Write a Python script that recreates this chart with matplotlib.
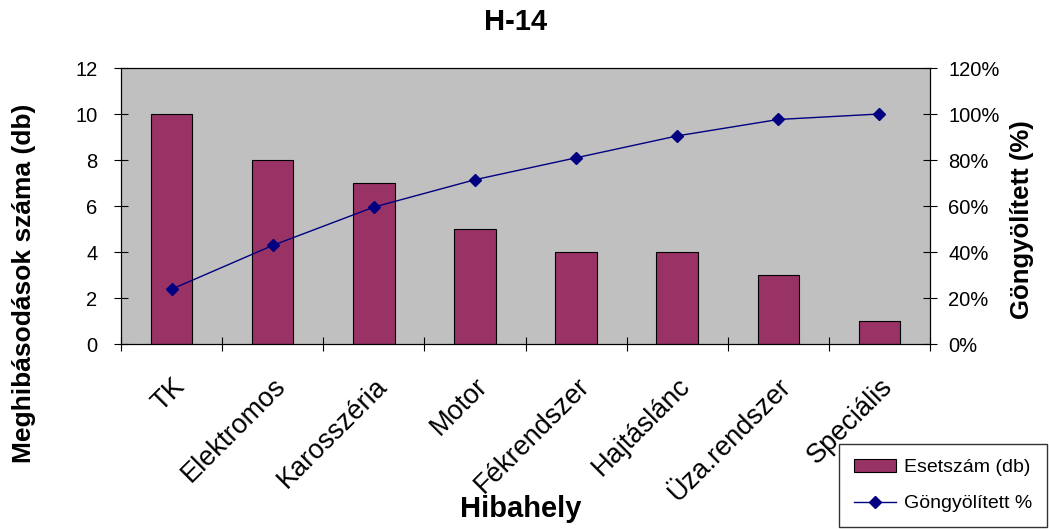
import matplotlib.pyplot as plt
import numpy as np

plt.rcParams['font.family'] = ['Liberation Sans', 'DejaVu Sans']

kategoriak = ['TK', 'Elektromos', 'Karosszéria', 'Motor', 'Fékrendszer',
              'Hajtáslánc', 'Üza.rendszer', 'Speciális']
esetszam = [10, 8, 7, 5, 4, 4, 3, 1]

# cumulative share in percent
gongyolitett = np.cumsum(esetszam) / np.sum(esetszam) * 100

fig = plt.figure(figsize=(10.49, 5.29), dpi=100)
ax = fig.add_axes([121/1049, 1 - 344/529, 809/1049, 276/529])
ax.set_facecolor('#C0C0C0')

x = np.arange(len(kategoriak))
bars = ax.bar(x, esetszam, width=0.41, color='#993366', edgecolor='black',
              linewidth=0.8, label='Esetszám (db)', zorder=2)
ax.set_xlim(-0.5, len(kategoriak) - 0.5)
ax.set_ylim(0, 12)
ax.set_yticks(range(0, 13, 2))

# category ticks sit on the boundaries, labels in the middle
ax.set_xticks(np.arange(-0.5, len(kategoriak)), minor=False)
ax.set_xticklabels([])
ax.set_xticks(x, minor=True)
ax.set_xticklabels(kategoriak, minor=True, rotation=45, ha='right', va='top',
                   rotation_mode='anchor', fontsize=19.5)
ax.tick_params(axis='x', which='minor', length=0, pad=21)
ax.tick_params(axis='x', which='major', direction='inout', length=10, width=0.8)
ax.tick_params(axis='y', direction='inout', length=10, width=0.8, labelsize=14.5, pad=12)

for s in ax.spines.values():
    s.set_linewidth(0.8)

ax2 = ax.twinx()
line, = ax2.plot(x, gongyolitett, color='#000080', linewidth=1, marker='D',
                 markersize=6, label='Göngyölített %', zorder=3)
ax2.set_ylim(0, 120)
ax2.set_yticks(range(0, 121, 20))
ax2.set_yticklabels([f'{v}%' for v in range(0, 121, 20)])
ax2.tick_params(axis='y', direction='inout', length=10, width=0.8, labelsize=14.5, pad=8)
for s in ax2.spines.values():
    s.set_linewidth(0.8)

fig.text(516/1049, 1 - 22/529, 'H-14', ha='center', va='center',
         fontsize=21, fontweight='bold')
fig.text(24/1049, 1 - 283/529, 'Meghibásodások száma (db)', rotation=90,
         ha='center', va='center', fontsize=19, fontweight='bold')
fig.text(1022/1049, 1 - 220/529, 'Göngyölített (%)', rotation=90,
         ha='center', va='center', fontsize=18.5, fontweight='bold')
fig.text(521/1049, 1 - 509/529, 'Hibahely', ha='center', va='center',
         fontsize=21, fontweight='bold')

leg = fig.legend([bars, line], ['Esetszám (db)', 'Göngyölített %'],
                 loc='lower right', bbox_to_anchor=(1047/1049, 2/529),
                 borderaxespad=0, frameon=True, fancybox=False,
                 edgecolor='black', fontsize=14, handlelength=2.2,
                 handletextpad=0.4, borderpad=0.75, labelspacing=0.95)
leg.get_frame().set_linewidth(1.0)

fig.savefig('out.png', dpi=100)
